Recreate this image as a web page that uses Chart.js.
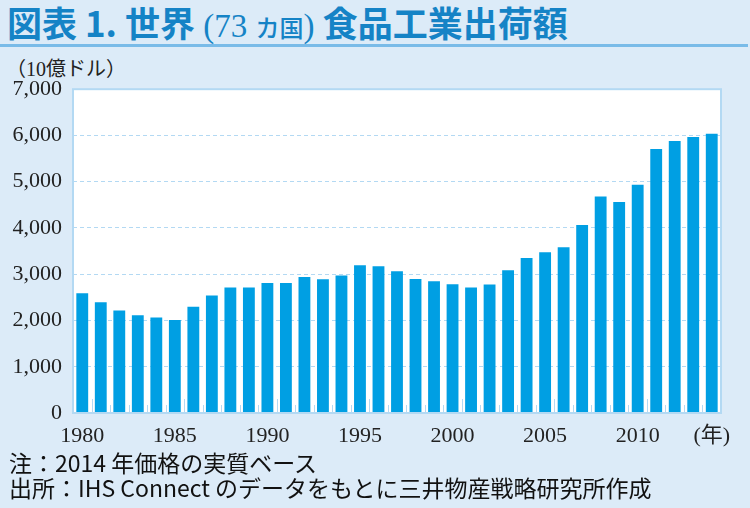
<!DOCTYPE html>
<html>
<head>
<meta charset="utf-8">
<script src="https://cdn.jsdelivr.net/npm/chart.js@4"></script>
<style>
  html, body { margin: 0; padding: 0; }
  body { width: 750px; height: 508px; background: #dcebf8; position: relative; overflow: hidden; }
  #title { position: absolute; left: 7px; top: 0px; color: #1583c6; font-family: "Noto Sans CJK JP", sans-serif; font-weight: 700; font-size: 35px; line-height: 44px; white-space: nowrap; }
  #title .paren { font-family: "Liberation Serif", serif; font-weight: 400; font-size: 33px; }
  #title .small { font-size: 24px; font-weight: 500; }
  #rule { position: absolute; left: 0; top: 44px; width: 748px; height: 3px; background: #79bbe8; }
  #unit { position: absolute; left: 6px; top: 53px; font-family: "Liberation Serif", "Noto Sans CJK JP", serif; font-size: 20px; color: #222; }
  .note { position: absolute; left: 9px; font-family: "Noto Sans CJK JP", sans-serif; font-size: 23px; line-height: 24px; color: #111; white-space: nowrap; }
  #box { position: absolute; left: 0; top: 65px; width: 750px; height: 385px; }
</style>
</head>
<body>
<div id="title">図表 1. 世界<span class="paren"> (73 </span><span class="small">カ国</span><span class="paren">) </span>食品工業出荷額</div>
<div id="rule"></div>
<div id="unit">（10億ドル）</div>
<div id="box"><canvas id="foodChart"></canvas></div>
<div class="note" style="top:450px;">注：2014 年価格の実質ベース</div>
<div class="note" style="top:475px;">出所：IHS Connect のデータをもとに三井物産戦略研究所作成</div>

<script>
// years and shipment values (10億ドル, 2014年価格)
const years = ['1980','1981','1982','1983','1984','1985','1986','1987','1988','1989',
               '1990','1991','1992','1993','1994','1995','1996','1997','1998','1999',
               '2000','2001','2002','2003','2004','2005','2006','2007','2008','2009',
               '2010','2011','2012','2013','2014'];
const shipments = [2590, 2396, 2216, 2115, 2065, 2010, 2295, 2540, 2712, 2712,
                   2813, 2813, 2942, 2892, 2971, 3194, 3173, 3065, 2899, 2849,
                   2784, 2712, 2777, 3086, 3353, 3475, 3583, 4065, 4683, 4561,
                   4935, 5705, 5878, 5964, 6036];
const xTickLabels = ['1980','','','','','1985','','','','',
                     '1990','','','','','1995','','','','',
                     '2000','','','','','2005','','','','',
                     '2010','','','','(年)'];
const yTicks = [0, 1000, 2000, 3000, 4000, 5000, 6000, 7000];

const frameColor = '#b3d9f3';

// white plot area, frame and the little ticks between bars
const plotFrame = {
    id: 'plotFrame',
    beforeDraw(chart) {
        const a = chart.chartArea, c = chart.ctx;
        c.save();
        c.fillStyle = '#ffffff';
        c.fillRect(a.left, a.top, a.right - a.left, a.bottom - a.top);
        c.restore();
    },
    afterDatasetsDraw(chart) {
        const a = chart.chartArea, c = chart.ctx, xs = chart.scales.x;
        c.save();
        c.strokeStyle = frameColor;
        c.lineWidth = 1;
        for (let i = 0; i < years.length - 1; i++) {
            const x = Math.round((xs.getPixelForValue(i) + xs.getPixelForValue(i + 1)) / 2) + 0.5;
            const len = (Number(years[i]) % 5 === 0) ? 14 : 8;
            c.beginPath();
            c.moveTo(x, a.bottom);
            c.lineTo(x, a.bottom - len);
            c.stroke();
        }
        c.lineWidth = 2;
        c.strokeRect(a.left, a.top, a.right - a.left, a.bottom - a.top);
        c.restore();
    }
};

const ctx = document.getElementById('foodChart').getContext('2d');
const foodChart = new Chart(ctx, {
    type: 'bar',
    data: {
        labels: years,
        datasets: [{
            label: '食品工業出荷額',
            data: shipments,
            backgroundColor: '#009fe3',
            borderWidth: 0,
            barPercentage: 0.64,
            categoryPercentage: 1.0
        }]
    },
    options: {
        responsive: true,
        maintainAspectRatio: false,
        animation: false,
        layout: { padding: { left: 10, right: 29, top: 19, bottom: 2 } },
        plugins: {
            legend: { display: false },
            tooltip: { enabled: false }
        },
        scales: {
            x: {
                offset: true,
                grid: { display: false },
                border: { display: false },
                ticks: {
                    autoSkip: false,
                    maxRotation: 0,
                    padding: 2,
                    color: '#222',
                    font: { family: '"Liberation Serif", "Noto Sans CJK JP", serif', size: 22 },
                    callback: (v, i) => xTickLabels[i]
                },
                afterFit: s => { s.height = 35; }
            },
            y: {
                min: 0,
                max: 7000,
                afterBuildTicks: s => { s.ticks = yTicks.map(v => ({ value: v })); },
                grid: {
                    drawTicks: false,
                    color: c => (c.tick.value === 0 || c.tick.value === 7000) ? 'rgba(0,0,0,0)' : frameColor
                },
                border: { display: false, dash: [4, 3] },
                ticks: {
                    padding: 11,
                    color: '#222',
                    font: { family: '"Liberation Serif", serif', size: 22 },
                    callback: v => v.toLocaleString('en-US')
                },
                afterFit: s => { s.width = 63; }
            }
        }
    },
    plugins: [plotFrame]
});
</script>
</body>
</html>
